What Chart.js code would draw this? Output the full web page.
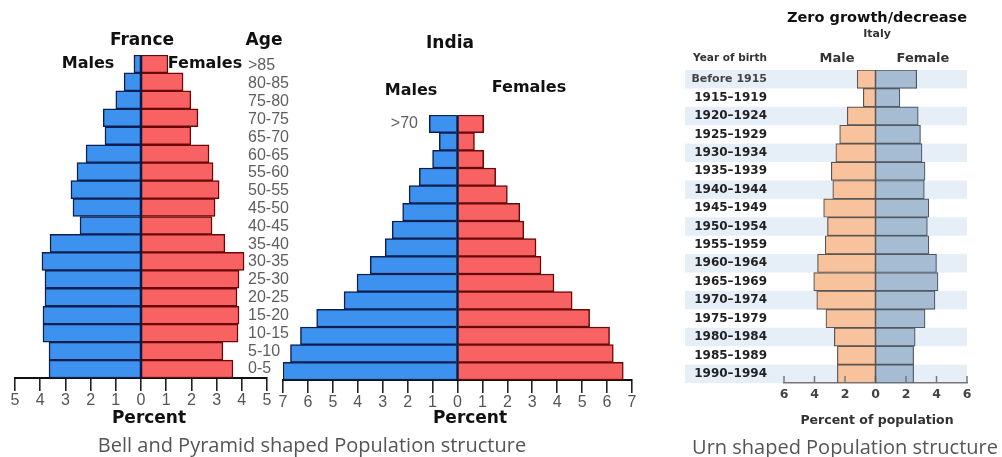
<!DOCTYPE html>
<html>
<head>
<meta charset="utf-8">
<script src="https://cdn.jsdelivr.net/npm/chart.js@4.4.1/dist/chart.umd.min.js"></script>
<style>
  html, body { margin: 0; padding: 0; background: #ffffff; }
  #wrap { position: relative; width: 1002px; height: 457px; overflow: hidden; background: #fff; }
  canvas { position: absolute; top: 0; }
  .t { position: absolute; transform: translate(-50%, -50%); white-space: nowrap; line-height: 1; }
  .b { font-family: "DejaVu Sans", sans-serif; font-weight: bold; color: #111; }
  .cap { font-family: "Open Sans", sans-serif; color: #555; }
</style>
</head>
<body>
<div id="wrap">
  <canvas id="france" width="300" height="457" style="left:0px"></canvas>
  <canvas id="india" width="380" height="457" style="left:270px"></canvas>
  <canvas id="italy" width="322" height="457" style="left:680px"></canvas>

  <div class="t b" style="left:142px;top:39px;font-size:17px">France</div>
  <div class="t b" style="left:264px;top:39px;font-size:17px">Age</div>
  <div class="t b" style="left:88px;top:63px;font-size:16px">Males</div>
  <div class="t b" style="left:205px;top:63px;font-size:16px">Females</div>
  <div class="t b" style="left:149px;top:417px;font-size:17px">Percent</div>

  <div class="t b" style="left:450px;top:42px;font-size:17px">India</div>
  <div class="t b" style="left:411px;top:90px;font-size:16px">Males</div>
  <div class="t b" style="left:529px;top:87px;font-size:16px">Females</div>
  <div class="t b" style="left:470px;top:417px;font-size:17px">Percent</div>

  <div class="t cap" style="left:312px;top:445px;font-size:20px">Bell and Pyramid shaped Population structure</div>

  <div class="t b" style="left:877px;top:17px;font-size:14.5px">Zero growth/decrease</div>
  <div class="t b" style="left:877px;top:33px;font-size:11px;color:#333">Italy</div>
  <div class="t b" style="left:730px;top:57px;font-size:10.5px;color:#333">Year of birth</div>
  <div class="t b" style="left:837px;top:57px;font-size:13px;color:#333">Male</div>
  <div class="t b" style="left:923px;top:57px;font-size:13px;color:#333">Female</div>
  <div class="t b" style="left:877px;top:420px;font-size:12.5px;color:#333">Percent of population</div>
  <div class="t cap" style="left:845px;top:447px;font-size:20px">Urn shaped Population structure</div>
</div>

<script>
// ---------- DATA ----------
const franceAges = ['>85','80-85','75-80','70-75','65-70','60-65','55-60','50-55','45-50','40-45','35-40','30-35','25-30','20-25','15-20','10-15','5-10','0-5'];
const franceMales = [0.28,0.67,1.0,1.5,1.43,2.18,2.54,2.78,2.7,2.42,3.61,3.93,3.81,3.81,3.89,3.89,3.65,3.65];
const franceFemales = [1.07,1.67,1.98,2.26,1.98,2.7,2.86,3.1,2.94,2.82,3.33,4.09,3.89,3.81,3.89,3.85,3.25,3.65];
const franceTicks = [-5,-4,-3,-2,-1,0,1,2,3,4,5];

const indiaAges = ['>70','65-70','60-65','55-60','50-55','45-50','40-45','35-40','30-35','25-30','20-25','15-20','10-15','5-10','0-5'];
const indiaMales = [1.13,0.73,1.0,1.53,1.94,2.2,2.62,2.9,3.5,4.03,4.55,5.65,6.3,6.7,7.0];
const indiaFemales = [1.05,0.68,1.05,1.53,2.0,2.5,2.66,3.15,3.35,3.87,4.6,5.3,6.1,6.25,6.65];
const indiaTicks = [-7,-6,-5,-4,-3,-2,-1,0,1,2,3,4,5,6,7];

const italyYears = ['Before 1915','1915–1919','1920–1924','1925–1929','1930–1934','1935–1939','1940–1944','1945–1949','1950–1954','1955–1959','1960–1964','1965–1969','1970–1974','1975–1979','1980–1984','1985–1989','1990–1994'];
const italyMale = [1.2,0.8,1.85,2.35,2.6,2.9,2.8,3.4,3.15,3.3,3.8,4.05,3.85,3.25,2.7,2.5,2.5];
const italyFemale = [2.7,1.6,2.8,2.95,3.05,3.25,3.2,3.5,3.4,3.5,4.0,4.1,3.9,3.25,2.6,2.5,2.5];
const italyTicks = [-6,-4,-2,0,2,4,6];

// ---------- HELPERS ----------
const neg = a => a.map(v => -v);

function centerLine(color, width) {
  return {
    id: 'centerLine',
    afterDatasetsDraw(chart) {
      const ctx = chart.ctx, xs = chart.scales.x, area = chart.chartArea;
      const x = xs.getPixelForValue(0);
      ctx.save();
      ctx.strokeStyle = color; ctx.lineWidth = width;
      ctx.beginPath(); ctx.moveTo(x, area.top); ctx.lineTo(x, area.bottom); ctx.stroke();
      ctx.restore();
    }
  };
}

function pyramid(canvasId, labels, males, females, ticks, pad, axisH, labelPlugin) {
  return new Chart(document.getElementById(canvasId), {
    type: 'bar',
    data: {
      labels: labels,
      datasets: [
        { label: 'Males', data: neg(males), backgroundColor: '#3d92f0', borderColor: '#0c1f52',
          borderWidth: 1.5, categoryPercentage: 1, barPercentage: 1 },
        { label: 'Females', data: females, backgroundColor: '#f86262', borderColor: '#6a0808',
          borderWidth: 1.5, categoryPercentage: 1, barPercentage: 1 }
      ]
    },
    options: {
      indexAxis: 'y', responsive: false, animation: false, devicePixelRatio: 1,
      layout: { padding: pad },
      plugins: { legend: { display: false }, tooltip: { enabled: false }, title: { display: false } },
      scales: {
        x: {
          stacked: true, min: ticks[0], max: ticks[ticks.length - 1],
          afterBuildTicks: s => { s.ticks = ticks.map(v => ({ value: v })); },
          afterFit: s => { s.height = axisH; },
          grid: { display: true, drawOnChartArea: false, drawTicks: true, tickLength: 13, color: '#222', lineWidth: 1.6 },
          border: { display: true, color: '#111', width: 2 },
          ticks: { autoSkip: false, maxRotation: 0, padding: 0, color: '#555',
                   font: { family: 'Liberation Sans', size: 16 },
                   callback: v => String(Math.abs(v)) }
        },
        y: { stacked: true, display: false }
      }
    },
    plugins: [centerLine('#0c1a40', 2.5), labelPlugin]
  });
}

// France with age column labels
pyramid('france', franceAges, franceMales, franceFemales, franceTicks,
  { left: 15, right: 33, top: 55, bottom: 0 }, 79,
  { id: 'ageLabels', afterDraw(chart) {
      const ctx = chart.ctx, ys = chart.scales.y;
      ctx.save();
      ctx.font = '16px "Liberation Sans"'; ctx.fillStyle = '#5e5e5e';
      ctx.textAlign = 'left'; ctx.textBaseline = 'middle';
      franceAges.forEach((a, i) => {
        const y = ys.getPixelForValue(i);
        ctx.fillText(a, 248, y + 2 - i * 0.12);
      });
      ctx.restore();
  }});

// India with the ">70" label
pyramid('india', indiaAges, indiaMales, indiaFemales, indiaTicks,
  { left: 13, right: 18, top: 115, bottom: 0 }, 77,
  { id: 'topLabel', afterDraw(chart) {
      const ctx = chart.ctx, ys = chart.scales.y;
      ctx.save();
      ctx.font = '16px "Liberation Sans"'; ctx.fillStyle = '#5e5e5e';
      ctx.textAlign = 'right'; ctx.textBaseline = 'middle';
      ctx.fillText(indiaAges[0], 418 - 270, ys.getPixelForValue(0));
      ctx.restore();
  }});

// Italy
new Chart(document.getElementById('italy'), {
  type: 'bar',
  data: {
    labels: italyYears,
    datasets: [
      { label: 'Male', data: neg(italyMale), backgroundColor: '#f8c29c', borderColor: '#5a5550',
        borderWidth: 1.2, categoryPercentage: 1, barPercentage: 1 },
      { label: 'Female', data: italyFemale, backgroundColor: '#a6bcd2', borderColor: '#4e5864',
        borderWidth: 1.2, categoryPercentage: 1, barPercentage: 1 }
    ]
  },
  options: {
    indexAxis: 'y', responsive: false, animation: false, devicePixelRatio: 1,
    layout: { padding: { left: 0, right: 35, top: 70, bottom: 0 } },
    plugins: { legend: { display: false }, tooltip: { enabled: false } },
    scales: {
      x: {
        stacked: true, min: italyTicks[0], max: italyTicks[italyTicks.length - 1],
        afterBuildTicks: s => { s.ticks = italyTicks.map(v => ({ value: v })); },
        afterFit: s => { s.height = 74; },
        grid: { display: false, drawTicks: false },
        border: { display: true, color: '#777', width: 1.5 },
        ticks: { autoSkip: false, maxRotation: 0, padding: 4, color: '#444',
                 font: { family: 'DejaVu Sans', size: 12.5, weight: 'bold' },
                 callback: v => String(Math.abs(v)) }
      },
      y: {
        stacked: true, position: 'left',
        afterFit: s => { s.width = 104; },
        grid: { display: false, drawTicks: false },
        border: { display: false },
        ticks: { padding: 17, autoSkip: false,
                 color: c => c.index === 0 ? '#444' : '#222',
                 font: c => ({ family: 'DejaVu Sans', weight: 'bold', size: c.index === 0 ? 11 : 12 }) }
      }
    }
  },
  plugins: [{
    id: 'stripes',
    beforeDraw(chart) {
      const ctx = chart.ctx, ys = chart.scales.y, area = chart.chartArea;
      const h = ys.getPixelForValue(1) - ys.getPixelForValue(0);
      ctx.save();
      ctx.fillStyle = '#e6eef8';
      italyYears.forEach((_, i) => {
        if (i % 2 === 0) {
          const y = ys.getPixelForValue(i);
          ctx.fillRect(5, y - h / 2, area.right - 5, h);
        }
      });
      ctx.restore();
    },
    afterDatasetsDraw(chart) {
      const ctx = chart.ctx, xs = chart.scales.x, area = chart.chartArea;
      ctx.save();
      ctx.strokeStyle = '#777'; ctx.lineWidth = 1.5;
      italyTicks.forEach(v => {
        const x = xs.getPixelForValue(v);
        ctx.beginPath(); ctx.moveTo(x, area.bottom); ctx.lineTo(x, area.bottom - 7); ctx.stroke();
      });
      ctx.strokeStyle = '#555'; ctx.lineWidth = 1.5;
      const x0 = xs.getPixelForValue(0);
      ctx.beginPath(); ctx.moveTo(x0, area.top); ctx.lineTo(x0, area.bottom); ctx.stroke();
      ctx.restore();
    }
  }]
});
</script>
</body>
</html>
